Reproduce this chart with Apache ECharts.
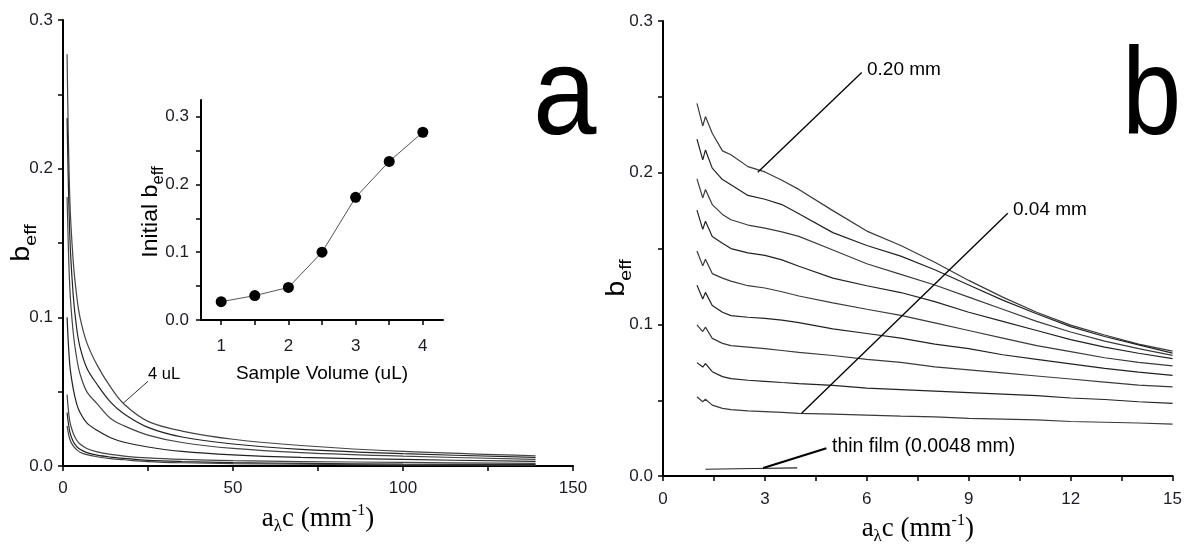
<!DOCTYPE html>
<html><head><meta charset="utf-8">
<script src="https://cdn.jsdelivr.net/npm/echarts@6/dist/echarts.min.js"></script>
<style>html,body{margin:0;padding:0;background:#fff}#c{width:1185px;height:550px}</style>
</head><body><div id="c"></div>
<script>
// ---------- Panel a : b_eff vs a_lambda*c for sample volumes ----------
const aX = [1.2, 2, 3, 4, 5, 7, 10, 14, 18, 25, 35, 50, 70, 100, 139];
const a_4uL  = [0.277, 0.180, 0.138, 0.115, 0.100, 0.083, 0.068, 0.053, 0.0415, 0.030, 0.0235, 0.018, 0.0138, 0.0098, 0.0069];
const a_35uL = [0.234, 0.155, 0.115, 0.093, 0.080, 0.066, 0.055, 0.043, 0.035, 0.026, 0.0195, 0.0148, 0.0112, 0.0083, 0.0058];
const a_3uL  = [0.181, 0.120, 0.090, 0.073, 0.062, 0.050, 0.042, 0.032, 0.027, 0.0208, 0.0158, 0.0118, 0.0090, 0.0066, 0.0045];
const a_25uL = [0.100, 0.068, 0.052, 0.042, 0.036, 0.029, 0.024, 0.019, 0.016, 0.0128, 0.0098, 0.0075, 0.0058, 0.0044, 0.0031];
const a_2uL  = [0.048, 0.030, 0.022, 0.0175, 0.0148, 0.0118, 0.0095, 0.0078, 0.0067, 0.0054, 0.0044, 0.0036, 0.0030, 0.0024, 0.0018];
const a_15uL = [0.036, 0.023, 0.0165, 0.0132, 0.0112, 0.0090, 0.0073, 0.0060, 0.0051, 0.0038, 0.0030, 0.0023, 0.0018, 0.0013, 0.0009];
const a_1uL  = [0.027, 0.018, 0.0135, 0.0110, 0.0093, 0.0076, 0.0062, 0.0050, 0.0042, 0.0030, 0.0022, 0.0016, 0.0012, 0.0008, 0.0005];
const aCurves = [a_4uL, a_35uL, a_3uL, a_25uL, a_2uL, a_15uL, a_1uL];
const aXTicks = [0, 25, 50, 75, 100, 125, 150];
const aXLabels = [0, 50, 100, 150];
const yTicks = [0, 0.05, 0.1, 0.15, 0.2, 0.25, 0.3];
const yLabels = [0, 0.1, 0.2, 0.3];
const ptr4uL = [[17.7, 0.0422], [25, 0.057]];

// ---------- Inset : initial b_eff vs sample volume ----------
const volumes = [1, 1.5, 2, 2.5, 3, 3.5, 4];
const initialBeff = [0.027, 0.036, 0.048, 0.100, 0.181, 0.234, 0.277];
const insetXTicks = [1, 1.5, 2, 2.5, 3, 3.5, 4];
const insetXLabels = [1, 2, 3, 4];

// ---------- Panel b : b_eff vs a_lambda*c for thicknesses ----------
const bX = [1.0, 1.17, 1.25, 1.45, 1.75, 2.0, 2.5, 3.0, 3.5, 4.0, 5.0, 6, 7, 8, 9, 10, 11, 12, 13, 14, 15];
const b_c1 = [0.2457, 0.2308, 0.2370, 0.2260, 0.2144, 0.2118, 0.2040, 0.2005, 0.1950, 0.1890, 0.1750, 0.1615, 0.152, 0.141, 0.129, 0.118, 0.108, 0.0995, 0.093, 0.087, 0.0824];
const b_c2 = [0.2221, 0.2085, 0.2150, 0.2030, 0.1955, 0.1920, 0.1850, 0.1825, 0.1790, 0.1730, 0.1605, 0.1520, 0.145, 0.136, 0.126, 0.116, 0.107, 0.0985, 0.092, 0.0865, 0.0811];
const b_c3 = [0.1959, 0.1834, 0.1889, 0.1790, 0.1725, 0.1690, 0.1655, 0.1635, 0.1610, 0.1580, 0.1490, 0.1400, 0.133, 0.126, 0.118, 0.110, 0.102, 0.095, 0.089, 0.084, 0.0796];
const b_c4 = [0.1753, 0.1626, 0.1680, 0.1580, 0.1535, 0.1500, 0.1472, 0.1455, 0.1425, 0.1383, 0.1305, 0.1255, 0.121, 0.115, 0.108, 0.102, 0.096, 0.090, 0.085, 0.081, 0.0774];
const b_c5 = [0.1484, 0.1386, 0.1430, 0.1335, 0.1305, 0.1285, 0.1255, 0.1240, 0.1215, 0.1187, 0.1142, 0.1100, 0.106, 0.101, 0.096, 0.091, 0.086, 0.082, 0.078, 0.075, 0.0726];
const b_c6 = [0.1259, 0.1167, 0.1211, 0.1125, 0.1080, 0.1058, 0.1047, 0.1040, 0.1028, 0.1012, 0.0970, 0.0940, 0.091, 0.087, 0.084, 0.080, 0.077, 0.074, 0.071, 0.0685, 0.0664];
const b_c7 = [0.0997, 0.0953, 0.0982, 0.0908, 0.0875, 0.0860, 0.0850, 0.0840, 0.0828, 0.0816, 0.0795, 0.0770, 0.075, 0.072, 0.070, 0.068, 0.066, 0.064, 0.062, 0.060, 0.0588];
const b_c8 = [0.0748, 0.0719, 0.0741, 0.0688, 0.0656, 0.0643, 0.0632, 0.0625, 0.0617, 0.0610, 0.0598, 0.0580, 0.057, 0.056, 0.055, 0.054, 0.053, 0.0515, 0.0505, 0.049, 0.0479];
const b_c9 = [0.0523, 0.0490, 0.0507, 0.0468, 0.0446, 0.0438, 0.0430, 0.0425, 0.0420, 0.0414, 0.0408, 0.0402, 0.0395, 0.039, 0.038, 0.0375, 0.037, 0.036, 0.0355, 0.035, 0.0343];
const bCurves = [b_c1, b_c2, b_c3, b_c4, b_c5, b_c6, b_c7, b_c8, b_c9];
const thinFilmX = [1.25, 2.7, 3.95];
const thinFilmY = [0.0045, 0.0050, 0.0054];
const bXTicks = [0, 1.5, 3, 4.5, 6, 7.5, 9, 10.5, 12, 13.5, 15];
const bXLabels = [0, 3, 6, 9, 12, 15];
const ptr020 = [[2.79, 0.2003], [5.85, 0.266]];
const ptr004 = [[4.08, 0.0414], [10.15, 0.1733]];
const ptrThin = [[2.95, 0.0053], [4.81, 0.0184]];

// ---------- build ----------
const SANS = 'Liberation Sans';
const SERIF = 'Liberation Serif';
const LBL = '#1c1c24';
const zip = (xs, ys) => xs.map((x, i) => [x, ys[i]]);

function axis(grid, min, max, ticks, labels, fmt, margin, opts) {
  return Object.assign({
    type: 'value', gridIndex: grid, min: min, max: max,
    axisLine: { show: true, onZero: false, lineStyle: { color: '#000', width: 2 } },
    axisTick: { show: true, inside: false, length: 5, customValues: ticks, lineStyle: { color: '#000', width: 1.5 } },
    axisLabel: { customValues: labels, formatter: fmt, fontFamily: SANS, fontSize: 17, color: LBL, margin: margin },
    splitLine: { show: false }
  }, opts || {});
}
const fx1 = v => Number(v).toFixed(1);
const f0 = v => String(Math.round(v));

const xNameRich = {
  m: { fontFamily: SERIF, fontSize: 27, color: '#000', lineHeight: 32 },
  s: { fontFamily: SERIF, fontSize: 17, color: '#000', lineHeight: 16, verticalAlign: 'bottom' },
  p: { fontFamily: SERIF, fontSize: 16, color: '#000', lineHeight: 18, verticalAlign: 'top' }
};
const xNameText = '{m|a}{s|λ}{m|c (mm}{p|-1}{m|)}';
const yNameRich = {
  b: { fontFamily: SANS, fontSize: 25, color: '#000', lineHeight: 36 },
  s: { fontFamily: SANS, fontSize: 17, color: '#000', lineHeight: 14, verticalAlign: 'bottom' }
};
const insetNameRich = {
  b: { fontFamily: SANS, fontSize: 22, color: '#000', lineHeight: 32 },
  s: { fontFamily: SANS, fontSize: 16, color: '#000', lineHeight: 14, verticalAlign: 'bottom' }
};

const series = [];
aCurves.forEach((c, i) => series.push({
  type: 'line', xAxisIndex: 0, yAxisIndex: 0, data: zip(aX, c), showSymbol: false,
  smooth: 0.35, lineStyle: { color: i % 2 ? '#222' : '#444', width: 1.2 }, silent: true, z: 3
}));
series.push({ type: 'line', xAxisIndex: 0, yAxisIndex: 0, data: ptr4uL, showSymbol: false,
  lineStyle: { color: '#333', width: 1 }, silent: true });
series.push({ type: 'line', xAxisIndex: 1, yAxisIndex: 1, data: zip(volumes, initialBeff),
  symbol: 'circle', symbolSize: 11, itemStyle: { color: '#000' },
  lineStyle: { color: '#555', width: 1 }, silent: true, z: 5 });
bCurves.forEach((c, i) => series.push({
  type: 'line', xAxisIndex: 2, yAxisIndex: 2, data: zip(bX, c), showSymbol: false,
  lineStyle: { color: i % 2 ? '#222' : '#3a3a3a', width: 1.2 }, silent: true
}));
series.push({ type: 'line', xAxisIndex: 2, yAxisIndex: 2, data: zip(thinFilmX, thinFilmY), showSymbol: false,
  lineStyle: { color: '#222', width: 1.2 }, silent: true });
[ptr020, ptr004].forEach(p => series.push({ type: 'line', xAxisIndex: 2, yAxisIndex: 2, data: p, showSymbol: false,
  lineStyle: { color: '#000', width: 1.3 }, silent: true }));
series.push({ type: 'line', xAxisIndex: 2, yAxisIndex: 2, data: ptrThin, showSymbol: false,
  lineStyle: { color: '#000', width: 2 }, silent: true });

function vtitle(x, y, text, rich, sx) {
  return { type: 'text', x: x, y: y, rotation: Math.PI / 2, scaleX: sx, silent: true,
    style: { text: text, rich: rich, align: 'center', verticalAlign: 'middle' } };
}

const option = {
  animation: false,
  backgroundColor: '#fff',
  grid: [
    { left: 63, top: 20, width: 510, height: 446 },
    { left: 201, top: 100, width: 242, height: 220 },
    { left: 663, top: 21, width: 510, height: 457 }
  ],
  xAxis: [
    axis(0, 0, 150, aXTicks, aXLabels, f0, 14, { name: xNameText, nameLocation: 'middle', nameGap: 37, nameTextStyle: { rich: xNameRich } }),
    axis(1, 0.7, 4.3, insetXTicks, insetXLabels, f0, 18, {
      name: 'Sample Volume (uL)', nameLocation: 'middle', nameGap: 44,
      nameTextStyle: { fontFamily: SANS, fontSize: 19, color: '#000' } }),
    axis(2, 0, 15, bXTicks, bXLabels, f0, 15, { name: xNameText, nameLocation: 'middle', nameGap: 35, nameTextStyle: { rich: xNameRich } })
  ],
  yAxis: [
    axis(0, 0, 0.3, yTicks, yLabels, fx1, 10),
    axis(1, 0, 0.3246, yTicks, yLabels, fx1, 12),
    axis(2, 0, 0.3, yTicks, yLabels, fx1, 10)
  ],
  graphic: [
    vtitle(22, 243, '{b|b}{s|eff}', yNameRich, 1.15),
    vtitle(617, 278, '{b|b}{s|eff}', yNameRich, 1.15),
    vtitle(151, 212, '{b|Initial b}{s|eff}', insetNameRich, 1.05),
    { type: 'text', left: 533, top: 38, scaleX: 0.92, style: { text: 'a', font: '124px "Liberation Sans"', fill: '#000' } },
    { type: 'text', left: 1122, top: 38, scaleX: 0.86, style: { text: 'b', font: '124px "Liberation Sans"', fill: '#000' } },
    { type: 'text', left: 148, top: 366, style: { text: '4 uL', font: '16.5px "Liberation Sans"', fill: '#000' } },
    { type: 'text', left: 867, top: 60, style: { text: '0.20 mm', font: '19px "Liberation Sans"', fill: '#000' } },
    { type: 'text', left: 1013, top: 200, style: { text: '0.04 mm', font: '19px "Liberation Sans"', fill: '#000' } },
    { type: 'text', left: 832, top: 437, style: { text: 'thin film (0.0048 mm)', font: '19.5px "Liberation Sans"', fill: '#000' } }
  ],
  series: series
};
const chart = echarts.init(document.getElementById('c'), null, { renderer: 'canvas' });
chart.setOption(option);
</script></body></html>
